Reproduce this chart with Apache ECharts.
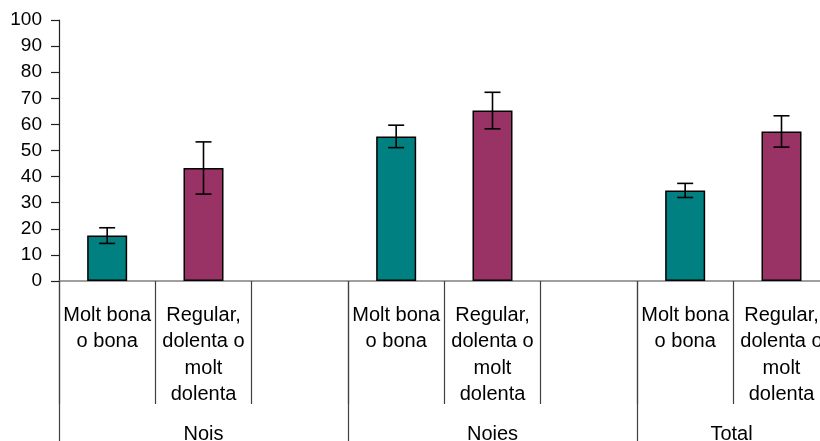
<!DOCTYPE html>
<html>
<head>
<meta charset="utf-8">
<script src="https://cdn.jsdelivr.net/npm/echarts@6/dist/echarts.min.js"></script>
<style>
  html, body { margin: 0; padding: 0; background: #ffffff; }
  #chart { width: 820px; height: 441px; }
</style>
</head>
<body>
<div id="chart"></div>
<script>
// Self-rated health by sex (%), with error bars
const groups = ['Nois', 'Noies', 'Total'];
const ratings = ['Molt bona\no bona', 'Regular,\ndolenta o\nmolt\ndolenta'];
const goodValues = [17.4, 55.4, 34.7];
const goodErrors = [3.0, 4.3, 2.7];
const poorValues = [43.3, 65.3, 57.3];
const poorErrors = [10.0, 7.0, 6.0];
const yTicks = [0, 10, 20, 30, 40, 50, 60, 70, 80, 90, 100];

const GOOD_COLOR = '#008080';
const POOR_COLOR = '#993366';
const FONT = '"Liberation Sans", Arial, sans-serif';

// Each group takes three slots: good, poor, and an empty spacer
const slots = [];
const barData = [];
const errData = [];
groups.forEach((g, i) => {
  slots.push(ratings[0], ratings[1], '');
  barData.push({ value: goodValues[i], itemStyle: { color: GOOD_COLOR } });
  barData.push({ value: poorValues[i], itemStyle: { color: POOR_COLOR } });
  barData.push('-');
  errData.push([i * 3, goodValues[i] - goodErrors[i], goodValues[i] + goodErrors[i]]);
  errData.push([i * 3 + 1, poorValues[i] - poorErrors[i], poorValues[i] + poorErrors[i]]);
});

const chart = echarts.init(document.getElementById('chart'), null, { renderer: 'canvas' });

chart.setOption({
  animation: false,
  backgroundColor: '#ffffff',
  grid: { left: 59, top: 20, right: -106, bottom: 160, containLabel: false, outerBoundsMode: 'none' },
  xAxis: [
    {
      type: 'category',
      data: slots,
      position: 'bottom',
      axisLine: { show: true, lineStyle: { color: '#808080', width: 1.5 } },
      axisTick: { show: true, interval: 0, length: 123, lineStyle: { color: '#404040', width: 1.2 } },
      axisLabel: {
        interval: 0,
        margin: 21,
        color: '#000',
        fontFamily: FONT,
        fontSize: 20,
        lineHeight: 26.5,
        verticalAlign: 'top'
      },
      splitLine: { show: false }
    },
    {
      type: 'category',
      data: groups,
      position: 'bottom',
      axisLine: { show: false },
      axisTick: { show: true, interval: 0, length: 160, lineStyle: { color: '#404040', width: 1.2 } },
      axisLabel: {
        interval: 0,
        margin: 143,
        color: '#000',
        fontFamily: FONT,
        fontSize: 20,
        lineHeight: 20,
        verticalAlign: 'top',
        formatter: v => v === 'Total' ? '{t|Total}' : v,
        rich: {
          t: { padding: [0, 100, 0, 0], color: '#000', fontFamily: FONT, fontSize: 20, lineHeight: 20 }
        }
      },
      splitLine: { show: false }
    }
  ],
  yAxis: {
    type: 'value',
    min: yTicks[0],
    max: yTicks[yTicks.length - 1],
    interval: 10,
    axisLine: { show: true, lineStyle: { color: '#202020', width: 1.2 } },
    axisTick: { show: true, inside: false, length: 8, lineStyle: { color: '#202020', width: 1.2 } },
    axisLabel: { margin: 17, color: '#000', fontFamily: FONT, fontSize: 19 },
    splitLine: { show: false }
  },
  series: [
    {
      type: 'bar',
      xAxisIndex: 0,
      data: barData,
      barWidth: 40,
      itemStyle: { borderColor: '#000', borderWidth: 1.5 }
    },
    {
      type: 'custom',
      xAxisIndex: 0,
      data: errData,
      z: 10,
      renderItem: function (params, api) {
        const x = api.value(0);
        const lo = api.coord([x, api.value(1)]);
        const hi = api.coord([x, api.value(2)]);
        const cap = 8;
        const style = { stroke: '#000', lineWidth: 1.6 };
        return {
          type: 'group',
          children: [
            { type: 'line', shape: { x1: lo[0], y1: lo[1], x2: hi[0], y2: hi[1] }, style },
            { type: 'line', shape: { x1: hi[0] - cap, y1: hi[1], x2: hi[0] + cap, y2: hi[1] }, style },
            { type: 'line', shape: { x1: lo[0] - cap, y1: lo[1], x2: lo[0] + cap, y2: lo[1] }, style }
          ]
        };
      }
    }
  ]
});
</script>
</body>
</html>
